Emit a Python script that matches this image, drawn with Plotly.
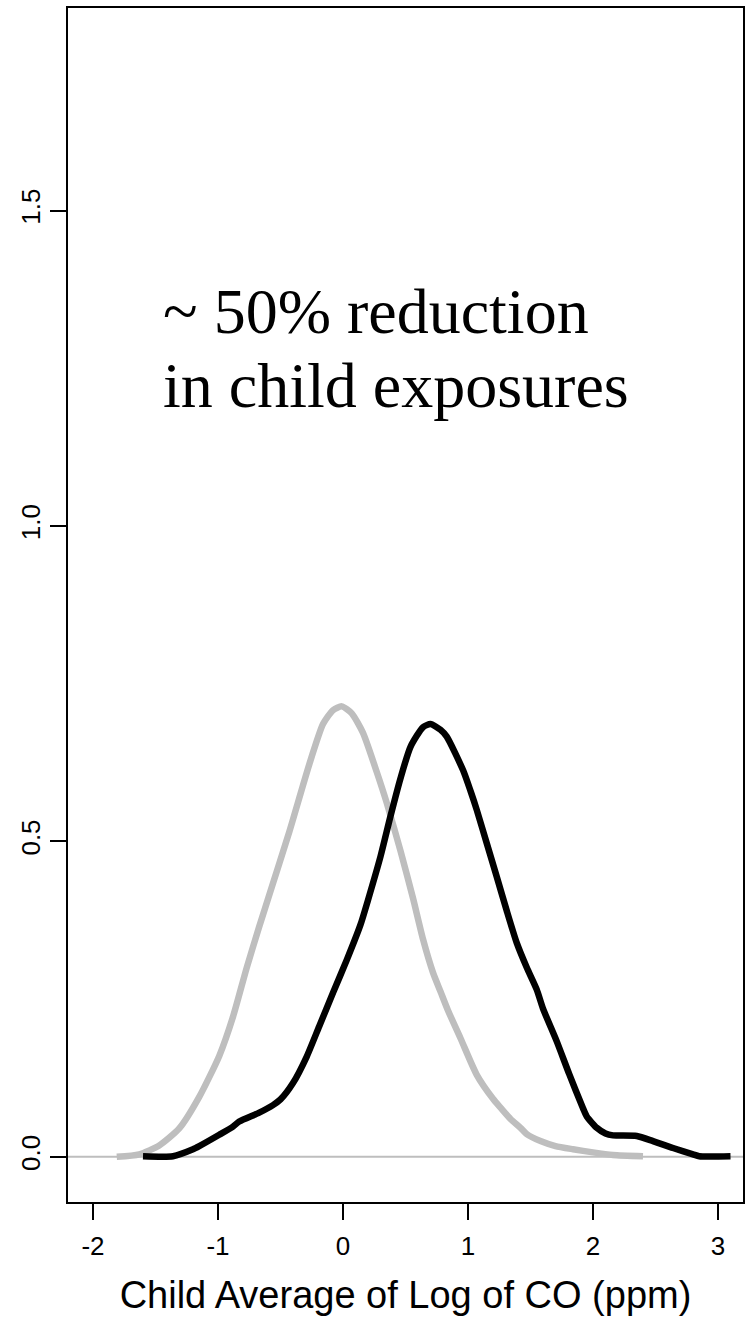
import plotly.graph_objects as go

# Grey density (before) - x, y
grey_x = [-1.81, -1.63, -1.47, -1.31, -1.15, -0.99, -0.88, -0.77, -0.67, -0.59, -0.43,
          -0.27, -0.16, -0.08, -0.01, 0.07, 0.16, 0.27, 0.35, 0.46, 0.56, 0.64, 0.72,
          0.78, 0.84, 0.94, 1.07, 1.20, 1.26, 1.34, 1.42, 1.47, 1.58, 1.70, 1.84, 2.00,
          2.16, 2.40]
grey_y = [0.000, 0.004, 0.018, 0.045, 0.095, 0.160, 0.222, 0.300, 0.365, 0.415, 0.515,
          0.622, 0.686, 0.708, 0.714, 0.703, 0.672, 0.610, 0.561, 0.485, 0.410, 0.345, 0.292,
          0.262, 0.232, 0.188, 0.130, 0.092, 0.078, 0.060, 0.046, 0.036, 0.025, 0.017, 0.012, 0.007,
          0.003, 0.001]

# Black density (after)
black_x = [-1.60, -1.36, -1.20, -1.15, -0.99, -0.88, -0.83, -0.67, -0.56, -0.50, -0.40,
           -0.29, -0.19, -0.08, 0.03, 0.14, 0.20, 0.30, 0.38, 0.46, 0.54, 0.64, 0.70,
           0.78, 0.83, 0.96, 1.02, 1.07, 1.15, 1.23, 1.31, 1.39, 1.47, 1.55, 1.60, 1.71,
           1.81, 1.92, 1.95, 2.03, 2.10, 2.16, 2.35, 2.48, 2.64, 2.80, 2.85, 3.10]
black_y = [0.001, 0.001, 0.012, 0.017, 0.035, 0.048, 0.056, 0.070, 0.082, 0.091, 0.117,
           0.159, 0.207, 0.260, 0.312, 0.368, 0.407, 0.476, 0.540, 0.600, 0.650, 0.681, 0.686,
           0.677, 0.666, 0.613, 0.580, 0.550, 0.497, 0.444, 0.390, 0.339, 0.300, 0.265, 0.235, 0.183,
           0.131, 0.077, 0.064, 0.046, 0.037, 0.034, 0.033, 0.025, 0.014, 0.004, 0.001, 0.001]

x_ticks = [-2, -1, 0, 1, 2, 3]
x_tick_text = ["-2", "-1", "0", "1", "2", "3"]
y_ticks = [0.0, 0.5, 1.0, 1.5]
y_tick_text = ["0.0", "0.5", "1.0", "1.5"]

annot_lines = ["~ 50% reduction", "in child exposures"]
x_title = "Child Average of Log of CO (ppm)"

fig = go.Figure()
fig.add_trace(go.Scatter(x=grey_x, y=grey_y, mode="lines",
                         line=dict(color="#BEBEBE", width=6.5, shape="spline", smoothing=0.6),
                         showlegend=False, hoverinfo="skip"))
fig.add_trace(go.Scatter(x=black_x, y=black_y, mode="lines",
                         line=dict(color="#000000", width=6.5, shape="spline", smoothing=0.6),
                         showlegend=False, hoverinfo="skip"))

fig.add_shape(type="line", xref="paper", x0=0, x1=1, yref="y", y0=0, y1=0,
              line=dict(color="#BEBEBE", width=2), layer="below")

fig.add_annotation(x=-1.46, y=1.340, xref="x", yref="y", text=annot_lines[0],
                   showarrow=False, xanchor="left", yanchor="middle",
                   font=dict(family="Liberation Serif, Times New Roman, serif", size=64, color="black"))
fig.add_annotation(x=-1.46, y=1.222, xref="x", yref="y", text=annot_lines[1],
                   showarrow=False, xanchor="left", yanchor="middle",
                   font=dict(family="Liberation Serif, Times New Roman, serif", size=64, color="black"))

axis_common = dict(showline=True, linecolor="black", linewidth=2, mirror=True,
                   ticks="outside", ticklen=16, tickwidth=2, tickcolor="black",
                   showgrid=False, zeroline=False,
                   tickfont=dict(family="Liberation Sans, Arial, sans-serif", size=26, color="black"))

fig.update_xaxes(range=[-2.2, 3.2], tickmode="array", tickvals=x_ticks, ticktext=x_tick_text,
                 title=dict(text=x_title, standoff=21,
                            font=dict(family="Liberation Sans, Arial, sans-serif", size=38, color="black")),
                 ticklabelstandoff=4, **axis_common)
fig.update_yaxes(range=[-0.0716, 1.821], tickmode="array", tickvals=y_ticks, ticktext=y_tick_text,
                 tickangle=-90, ticklabelstandoff=0, **axis_common)

fig.update_layout(width=745, height=1319, autosize=False,
                  margin=dict(l=68, r=2, t=8, b=117, autoexpand=False),
                  paper_bgcolor="white", plot_bgcolor="white")

fig.write_html("out.html")
